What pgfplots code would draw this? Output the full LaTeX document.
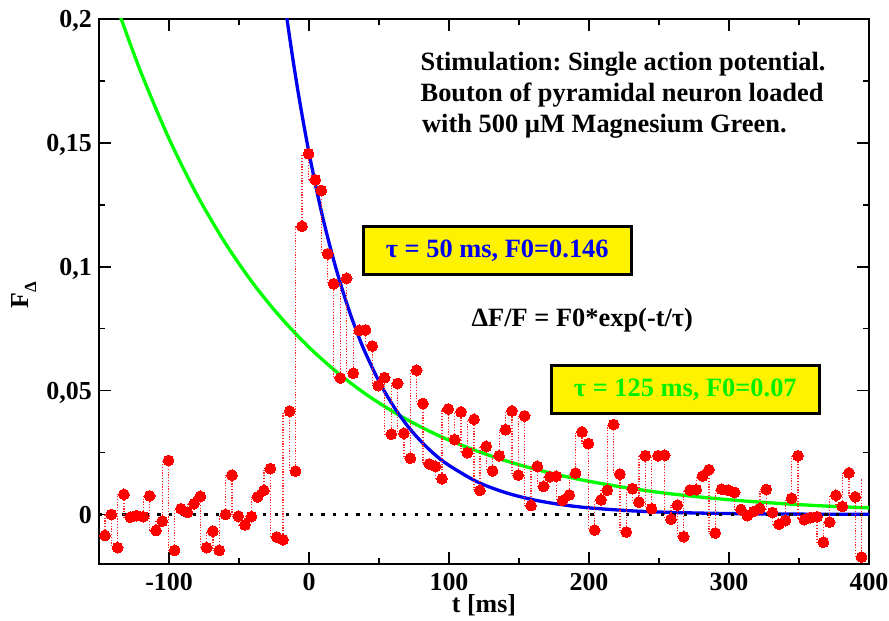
\documentclass[border=0pt]{standalone}
\usepackage{fontspec}
\setmainfont{Liberation Serif}
\usepackage{pgfplots}
\pgfplotsset{compat=1.18}
\usepackage{pgfplotstable}
\frenchspacing

\definecolor{myblue}{RGB}{0,0,240}
\definecolor{mygreen}{RGB}{0,255,0}
\definecolor{mytextgreen}{RGB}{0,240,0}
\definecolor{myred}{RGB}{255,0,0}

\pgfplotstableread{
t y yn
-145.7 -0.0085 0.0000
-141.2 0.0000 -0.0134
-136.7 -0.0134 0.0081
-132.2 0.0081 -0.0011
-127.6 -0.0011 -0.0005
-123.1 -0.0005 -0.0009
-118.4 -0.0009 0.0075
-113.8 0.0075 -0.0065
-109.3 -0.0065 -0.0027
-104.8 -0.0027 0.0218
-100.3 0.0218 -0.0145
-96.0 -0.0145 0.0023
-91.5 0.0023 0.0008
-86.9 0.0008 0.0043
-82.2 0.0043 0.0073
-77.6 0.0073 -0.0134
-73.1 -0.0134 -0.0067
-68.6 -0.0067 -0.0145
-64.1 -0.0145 0.0000
-59.6 0.0000 0.0159
-55.0 0.0159 -0.0007
-50.5 -0.0007 -0.0042
-45.7 -0.0042 -0.0009
-41.2 -0.0009 0.0071
-36.7 0.0071 0.0097
-32.2 0.0097 0.0185
-27.6 0.0185 -0.0091
-23.1 -0.0091 -0.0102
-18.6 -0.0102 0.0417
-13.8 0.0417 0.0175
-9.6 0.0175 0.1163
-5.0 0.1163 0.1456
-0.3 0.1456 0.1351
4.5 0.1351 0.1308
8.8 0.1308 0.1052
13.3 0.1052 0.0931
17.6 0.0931 0.0551
22.4 0.0551 0.0953
26.9 0.0953 0.0570
31.6 0.0570 0.0743
35.9 0.0743 0.0745
40.4 0.0745 0.0680
45.2 0.0680 0.0520
49.5 0.0520 0.0552
54.0 0.0552 0.0324
58.8 0.0324 0.0529
63.3 0.0529 0.0328
67.8 0.0328 0.0227
72.4 0.0227 0.0582
76.9 0.0582 0.0448
81.4 0.0448 0.0204
85.9 0.0204 0.0194
90.4 0.0194 0.0144
95.0 0.0144 0.0426
99.5 0.0426 0.0302
104.0 0.0302 0.0414
108.6 0.0414 0.0249
113.1 0.0249 0.0384
117.9 0.0384 0.0097
122.1 0.0097 0.0275
126.6 0.0275 0.0176
131.1 0.0176 0.0237
135.9 0.0237 0.0342
140.4 0.0342 0.0418
145.0 0.0418 0.0159
149.5 0.0159 0.0398
154.0 0.0398 0.0036
158.6 0.0036 0.0194
163.1 0.0194 0.0113
167.6 0.0113 0.0152
172.1 0.0152 0.0154
176.6 0.0154 0.0056
181.1 0.0056 0.0079
185.9 0.0079 0.0167
190.4 0.0167 0.0333
195.0 0.0333 0.0286
199.5 0.0286 -0.0063
204.0 -0.0063 0.0059
208.6 0.0059 0.0098
213.1 0.0098 0.0363
217.6 0.0363 0.0163
222.1 0.0163 -0.0071
226.6 -0.0071 0.0104
231.1 0.0104 0.0050
235.7 0.0050 0.0237
240.2 0.0237 0.0023
244.7 0.0023 0.0237
249.3 0.0237 0.0239
254.0 0.0239 -0.0019
258.6 -0.0019 0.0038
263.1 0.0038 -0.0090
267.6 -0.0090 0.0098
272.1 0.0098 0.0100
276.6 0.0100 0.0155
281.1 0.0155 0.0181
285.7 0.0181 -0.0075
290.2 -0.0075 0.0102
294.7 0.0102 0.0098
299.5 0.0098 0.0089
304.0 0.0089 0.0020
308.6 0.0020 -0.0005
313.1 -0.0005 0.0012
317.6 0.0012 0.0024
322.1 0.0024 0.0101
326.6 0.0101 0.0008
331.1 0.0008 -0.0040
335.7 -0.0040 -0.0025
340.2 -0.0025 0.0065
344.7 0.0065 0.0237
349.3 0.0237 -0.0021
353.8 -0.0021 -0.0013
358.3 -0.0013 -0.0009
362.9 -0.0009 -0.0112
367.4 -0.0112 -0.0031
371.9 -0.0031 0.0077
376.4 0.0077 0.0032
380.9 0.0032 0.0168
385.7 0.0168 0.0071
390.2 0.0071 -0.0172
394.7 -0.0172 0.0145
}\datatable

\newcommand{\bigfont}{\fontsize{26.5}{31.5}\selectfont\bfseries}

\begin{document}
\begin{tikzpicture}
\useasboundingbox (-99bp,-57bp) rectangle (790bp,564bp);
\begin{axis}[
  at={(0,0)}, anchor=south west,
  scale only axis, width=770bp, height=545bp,
  xmin=-150, xmax=400, ymin=-0.02, ymax=0.2,
  xtick={-100,0,100,200,300,400},
  xticklabels={-100,0,100,200,300,400},
  minor xtick={-150,-50,50,150,250,350},
  ytick={0,0.05,0.1,0.15,0.2},
  yticklabels={0,{0,05},{0,1},{0,15},{0,2}},
  minor ytick={0.025,0.075,0.125,0.175},
  scaled y ticks=false,
  tick align=inside,
  major tick length=12bp, minor tick length=6bp,
  every tick/.style={black, line width=1.6bp},
  axis line style={line width=2.9bp},
  tick label style={font=\fontsize{26}{31}\selectfont\bfseries},
  xticklabel style={anchor=base, yshift=-26bp, inner sep=0pt},
  yticklabel style={anchor=base east, xshift=-7bp, yshift=-8.6bp, inner sep=0pt},
  every axis x label/.style={at={(rel axis cs:0.5,0)}, anchor=base, yshift=-48bp,
     font=\fontsize{26}{31}\selectfont\bfseries},
  every axis y label/.style={at={(rel axis cs:0,0.493)}, rotate=90, anchor=center, yshift=75bp,
     font=\fontsize{26}{31}\selectfont\bfseries},
  xlabel={t [ms]},
  ylabel={F\raisebox{-0.28em}{\fontsize{17}{17}\selectfont\bfseries Δ}},
]
% green fit
\addplot[mygreen, line width=3.3bp, smooth] coordinates {
(-135,0.2014) (-120,0.1784) (-100,0.1517) (-80,0.1290) (-60,0.1097) (-40,0.0933)
(-20,0.0794) (0,0.0675) (20,0.0574) (40,0.0488) (60,0.0415) (80,0.0353)
(100,0.0300) (130,0.0236) (160,0.0185) (190,0.0145) (220,0.0114) (250,0.00892)
(280,0.00699) (310,0.00549) (340,0.00430) (370,0.00337) (400,0.00265)};
% blue fit
\addplot[myblue, line width=3.3bp, smooth] coordinates {
(-16,0.2011) (-12,0.1856) (-8,0.1713) (-4,0.1582) (0,0.1460) (5,0.1321) (10,0.1195)
(15,0.1082) (20,0.0979) (25,0.0886) (30,0.0801) (35,0.0725) (40,0.0656) (50,0.0537)
(60,0.0440) (70,0.0360) (80,0.0295) (90,0.0241) (100,0.0198) (120,0.0132)
(140,0.00888) (160,0.00595) (180,0.00399) (200,0.00267) (230,0.00147)
(260,0.000806) (300,0.000362) (350,0.000133) (400,0.000049)};
% zero line
\addplot[black, line width=3.2bp, dash pattern=on 3.2bp off 8.5bp] coordinates {(-150,0) (400,0)};
% dotted connectors
\addplot[draw=none, mark=none,
  error bars/.cd, y dir=both, y explicit, error mark=none,
  error bar style={draw=myred!85, solid, line width=1.2bp, dash pattern=on 1.2bp off 1.6bp}]
  table[x=t, y=y,
    y error plus expr={max(\thisrow{yn}-\thisrow{y},0)},
    y error minus expr={max(\thisrow{y}-\thisrow{yn},0)}] {\datatable};
% data points
\addplot[only marks, mark=*, mark size=5.4bp, mark options={fill=myred, draw=myred, line width=0pt}]
  table[x=t, y=y] {\datatable};

\node[anchor=base west, font=\bigfont, inner sep=0pt] at (axis cs:79.6,0.17915) {Stimulation: Single action potential.};
\node[anchor=base west, font=\bigfont, inner sep=0pt] at (axis cs:79.6,0.16665) {Bouton of pyramidal neuron loaded};
\node[anchor=base west, font=\bigfont, inner sep=0pt] at (axis cs:80.7,0.15403) {with 500 µM Magnesium Green.};

\node[fill=yellow, draw=black, line width=2.7bp, minimum width=268bp, minimum height=48bp,
  inner sep=0pt, font=\bigfont, text=myblue] at (axis cs:134.5,0.1065) {τ = 50 ms, F0=0.146};
\node[font=\bigfont, inner sep=0pt] at (axis cs:195.2,0.0786) {ΔF/F = F0*exp(-t/τ)};
\node[fill=yellow, draw=black, line width=2.7bp, minimum width=268bp, minimum height=48bp,
  inner sep=0pt, font=\bigfont, text=mytextgreen] at (axis cs:268.8,0.0504) {τ = 125 ms, F0=0.07};
\end{axis}
\end{tikzpicture}
\end{document}
